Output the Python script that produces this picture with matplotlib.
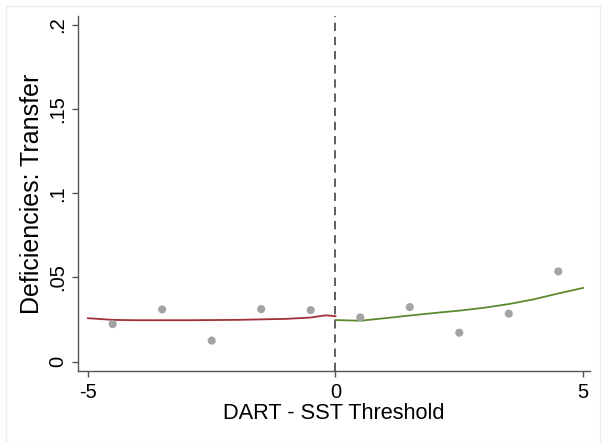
import matplotlib
matplotlib.use("Agg")
import matplotlib.pyplot as plt
from matplotlib.patches import Rectangle

# binned means
bin_x = [-4.5, -3.5, -2.5, -1.5, -0.5, 0.5, 1.5, 2.5, 3.5, 4.5]
bin_y = [0.0223, 0.0310, 0.0125, 0.0312, 0.0306, 0.0263, 0.0324, 0.0172, 0.0285, 0.0536]

# left fit (below threshold)
left_x = [-5.0, -4.5, -4.0, -3.0, -2.0, -1.0, -0.5, -0.2, 0.0]
left_y = [0.0258, 0.0248, 0.0246, 0.0246, 0.0248, 0.0254, 0.0262, 0.0275, 0.0270]

# right fit (above threshold)
right_x = [0.0, 0.5, 1.0, 1.5, 2.0, 2.5, 3.0, 3.5, 4.0, 4.5, 5.0]
right_y = [0.0247, 0.0243, 0.0258, 0.0274, 0.0289, 0.0303, 0.0320, 0.0342, 0.0370, 0.0405, 0.0438]

x_ticks = [-5, 0, 5]
x_ticklabels = ["-5", "0", "5"]
y_ticks = [0, 0.05, 0.1, 0.15, 0.2]
y_ticklabels = ["0", ".05", ".1", ".15", ".2"]

plt.rcParams["font.family"] = ["Liberation Sans", "DejaVu Sans"]

fig = plt.figure(figsize=(6.06, 4.42), dpi=100)
fig.patches.append(Rectangle((6 / 606, 0.0), 1 - 12 / 606, 1 - 6 / 442, transform=fig.transFigure,
                             fill=False, edgecolor="#e8eeee", linewidth=1.0))
ax = fig.add_axes([78 / 606, (442 - 370.7) / 442, (590 - 78) / 606, (370.7 - 16) / 442])

ax.scatter(bin_x, bin_y, s=34, color="#a3a3a3", edgecolors="none", zorder=3)
ax.plot(left_x, left_y, color="#a23039", linewidth=1.3, zorder=2)
ax.plot(right_x, right_y, color="#5b8a2e", linewidth=1.3, zorder=2)
ax.axvline(0, color="#444444", linestyle=(0, (5, 3.5)), linewidth=1.2, zorder=1)

ax.set_xlim(-5.2, 5.14)
ax.set_ylim(-0.0054, 0.2054)
ax.set_xticks(x_ticks)
ax.set_xticklabels(x_ticklabels, fontsize=14.5)
ax.set_yticks(y_ticks)
ax.set_yticklabels(y_ticklabels, fontsize=14.5, rotation=90, va="center")
ax.tick_params(axis="both", direction="out", length=4, width=1.0, color="#555555")
ax.tick_params(axis="x", pad=4.5)
ax.tick_params(axis="y", pad=4)

for side in ["top", "right"]:
    ax.spines[side].set_visible(False)
for side in ["left", "bottom"]:
    ax.spines[side].set_color("#555555")
    ax.spines[side].set_linewidth(1.0)

ax.set_xlabel("DART - SST Threshold", fontsize=15.7, labelpad=1)
ax.set_ylabel("Deficiencies: Transfer", fontsize=18, labelpad=3)

fig.savefig("out.png", dpi=100)
